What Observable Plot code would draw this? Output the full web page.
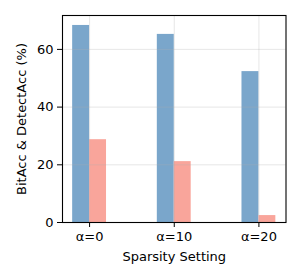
<!DOCTYPE html>
<html>
<head>
<meta charset="utf-8">
<script src="https://cdn.jsdelivr.net/npm/d3@7"></script>
<script src="https://cdn.jsdelivr.net/npm/@observablehq/plot@0.6"></script>
<style>
  html, body { margin: 0; padding: 0; background: #fff; }
</style>
</head>
<body>
<div id="chart"></div>
<script>
const categories = ["α=0", "α=10", "α=20"];
const bitAcc = [68.3, 65.2, 52.3];
const detectAcc = [28.7, 21.1, 2.4];
const seriesNames = ["BitAcc", "DetectAcc"];
const seriesColors = ["#7aa6cb", "#f9a59b"];
const yTicks = [0, 20, 40, 60];

const barWidth = 0.2;
const rows = [];
categories.forEach((c, i) => {
  rows.push({i, s: 0, series: seriesNames[0], value: bitAcc[i]});
  rows.push({i, s: 1, series: seriesNames[1], value: detectAcc[i]});
});

const chart = Plot.plot({
  width: 300,
  height: 280,
  marginLeft: 62,
  marginRight: 14.5,
  marginTop: 15,
  marginBottom: 58,
  style: {fontFamily: "DejaVu Sans", fontSize: "13px", color: "#000", background: "#fff"},
  x: {type: "linear", domain: [-0.32, 2.32]},
  y: {domain: [0, 71.75]},
  color: {domain: seriesNames, range: seriesColors},
  marks: [
    Plot.rectY(rows, {
      x1: d => d.i + (d.s === 0 ? -barWidth : 0),
      x2: d => d.i + (d.s === 0 ? 0 : barWidth),
      y1: 0,
      y2: "value",
      fill: "series",
      insetLeft: 0,
      insetRight: 0
    }),
    Plot.gridX([0, 1, 2], {stroke: "#b0b0b0", strokeOpacity: 0.3, strokeWidth: 1}),
    Plot.gridY(yTicks, {stroke: "#b0b0b0", strokeOpacity: 0.3, strokeWidth: 1}),
    Plot.axisX([0, 1, 2], {
      tickFormat: i => categories[i],
      tickSize: 5,
      tickPadding: 4,
      fontSize: 13,
      label: "Sparsity Setting",
      labelAnchor: "center",
      labelArrow: "none",
      labelOffset: 38
    }),
    Plot.axisY(yTicks, {
      tickSize: 5,
      tickPadding: 4,
      fontSize: 13,
      label: "BitAcc & DetectAcc (%)",
      labelAnchor: "center",
      labelArrow: "none",
      labelOffset: 46
    }),
    Plot.frame({stroke: "#000", strokeWidth: 1.1})
  ]
});

document.getElementById("chart").appendChild(chart);
</script>
</body>
</html>
